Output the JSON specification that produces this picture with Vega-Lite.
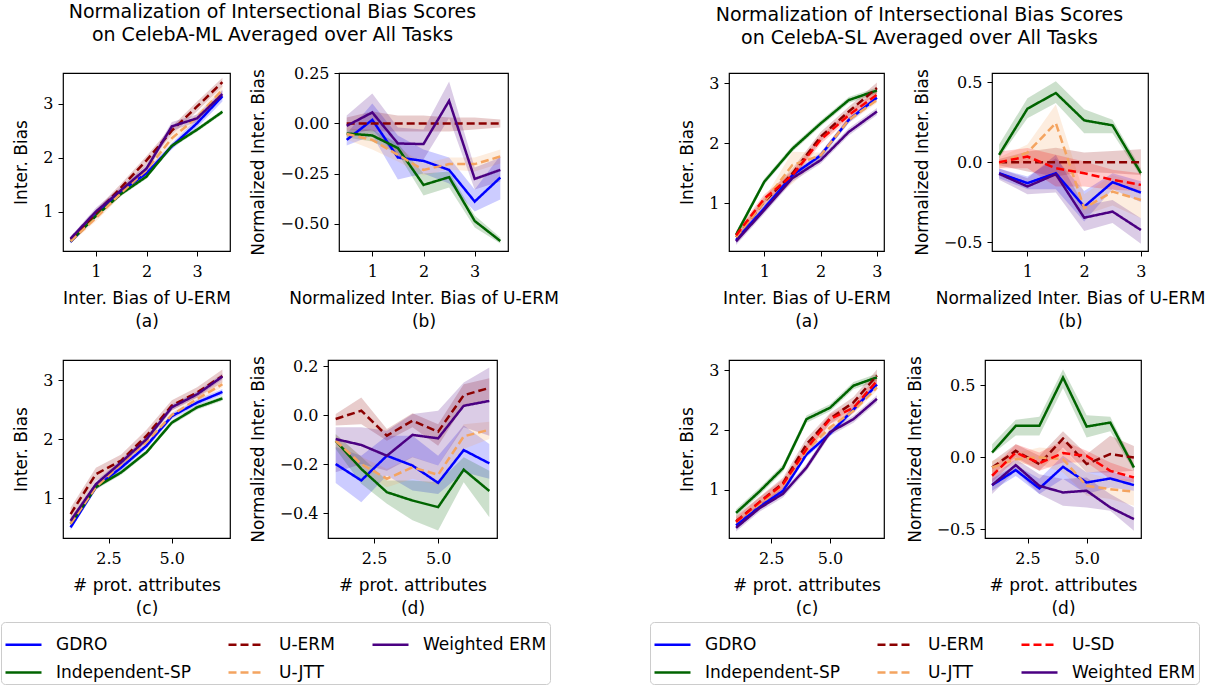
{
"$schema":"https://vega.github.io/schema/vega-lite/v6.json",
"background":"white",
"padding":{"left":0,"top":2,"right":0,"bottom":0},
"config":{
 "view":{"stroke":"black","strokeWidth":1.2},
 "axis":{"grid":false,"domain":false,"tickColor":"black","tickSize":5,"tickWidth":1,"labelFont":"DejaVu Serif","labelFontSize":16,"labelColor":"black","labelPadding":7,"titleFont":"DejaVu Sans","titleFontSize":17,"titleFontWeight":"normal","titleColor":"black","titlePadding":11,"titleLineHeight":23},
 "axisY":{"labelPadding":5,"titlePadding":12,"labelFont":"DejaVu Serif"},
 "legend":{"direction":"horizontal","columns":3,"symbolType":"stroke","symbolSize":1296,"symbolStrokeWidth":2.5,"labelFontSize":17,"labelFont":"DejaVu Sans","labelColor":"black","labelOffset":13,"rowPadding":-5,"columnPadding":32,"padding":3,"strokeColor":"#cccccc","fillColor":"white","cornerRadius":4,"labelLimit":300,"symbolOpacity":1},
 "title":{"font":"DejaVu Sans","fontWeight":"normal","color":"black","lineHeight":23,"anchor":"start","align":"center","frame":"bounds","offset":20,"fontSize":19}
},
"datasets":{
"mla":[
{"m":"GDRO","x":0.5,"y":0.44,"lo":0.41,"hi":0.47},{"m":"GDRO","x":1,"y":0.93,"lo":0.88,"hi":0.98},{"m":"GDRO","x":1.5,"y":1.38,"lo":1.33,"hi":1.43},{"m":"GDRO","x":2,"y":1.71,"lo":1.65,"hi":1.77},{"m":"GDRO","x":2.5,"y":2.21,"lo":2.15,"hi":2.27},{"m":"GDRO","x":3,"y":2.64,"lo":2.56,"hi":2.72},{"m":"GDRO","x":3.5,"y":3.14,"lo":3.04,"hi":3.24},
{"m":"Independent-SP","x":0.5,"y":0.45,"lo":0.42,"hi":0.48},{"m":"Independent-SP","x":1,"y":0.92,"lo":0.88,"hi":0.96},{"m":"Independent-SP","x":1.5,"y":1.33,"lo":1.29,"hi":1.37},{"m":"Independent-SP","x":2,"y":1.65,"lo":1.61,"hi":1.69},{"m":"Independent-SP","x":2.5,"y":2.22,"lo":2.18,"hi":2.26},{"m":"Independent-SP","x":3,"y":2.52,"lo":2.48,"hi":2.56},{"m":"Independent-SP","x":3.5,"y":2.85,"lo":2.81,"hi":2.89},
{"m":"U-ERM","x":0.5,"y":0.48,"lo":0.44,"hi":0.52},{"m":"U-ERM","x":1,"y":0.97,"lo":0.9,"hi":1.04},{"m":"U-ERM","x":1.5,"y":1.45,"lo":1.38,"hi":1.52},{"m":"U-ERM","x":2,"y":1.95,"lo":1.87,"hi":2.03},{"m":"U-ERM","x":2.5,"y":2.5,"lo":2.42,"hi":2.58},{"m":"U-ERM","x":3,"y":2.95,"lo":2.86,"hi":3.04},{"m":"U-ERM","x":3.5,"y":3.4,"lo":3.32,"hi":3.48},
{"m":"U-JTT","x":0.5,"y":0.45,"lo":0.41,"hi":0.49},{"m":"U-JTT","x":1,"y":0.88,"lo":0.82,"hi":0.94},{"m":"U-JTT","x":1.5,"y":1.35,"lo":1.29,"hi":1.41},{"m":"U-JTT","x":2,"y":1.77,"lo":1.71,"hi":1.83},{"m":"U-JTT","x":2.5,"y":2.36,"lo":2.3,"hi":2.42},{"m":"U-JTT","x":3,"y":2.75,"lo":2.68,"hi":2.82},{"m":"U-JTT","x":3.5,"y":3.26,"lo":3.18,"hi":3.34},
{"m":"Weighted ERM","x":0.5,"y":0.5,"lo":0.46,"hi":0.54},{"m":"Weighted ERM","x":1,"y":1.0,"lo":0.93,"hi":1.07},{"m":"Weighted ERM","x":1.5,"y":1.4,"lo":1.34,"hi":1.46},{"m":"Weighted ERM","x":2,"y":1.8,"lo":1.73,"hi":1.87},{"m":"Weighted ERM","x":2.5,"y":2.58,"lo":2.5,"hi":2.66},{"m":"Weighted ERM","x":3,"y":2.73,"lo":2.66,"hi":2.8},{"m":"Weighted ERM","x":3.5,"y":3.18,"lo":3.1,"hi":3.26}
],
"mlb":[
{"m":"GDRO","x":0.5,"y":-0.082,"lo":-0.11,"hi":-0.05},{"m":"GDRO","x":1,"y":0.018,"lo":-0.06,"hi":0.1},{"m":"GDRO","x":1.5,"y":-0.17,"lo":-0.28,"hi":-0.06},{"m":"GDRO","x":2,"y":-0.187,"lo":-0.25,"hi":-0.13},{"m":"GDRO","x":2.5,"y":-0.232,"lo":-0.3,"hi":-0.17},{"m":"GDRO","x":3,"y":-0.39,"lo":-0.44,"hi":-0.33},{"m":"GDRO","x":3.5,"y":-0.27,"lo":-0.38,"hi":-0.16},
{"m":"Independent-SP","x":0.5,"y":-0.05,"lo":-0.07,"hi":-0.03},{"m":"Independent-SP","x":1,"y":-0.06,"lo":-0.09,"hi":-0.03},{"m":"Independent-SP","x":1.5,"y":-0.123,"lo":-0.15,"hi":-0.1},{"m":"Independent-SP","x":2,"y":-0.307,"lo":-0.36,"hi":-0.25},{"m":"Independent-SP","x":2.5,"y":-0.268,"lo":-0.32,"hi":-0.24},{"m":"Independent-SP","x":3,"y":-0.487,"lo":-0.52,"hi":-0.46},{"m":"Independent-SP","x":3.5,"y":-0.587,"lo":-0.6,"hi":-0.57},
{"m":"U-ERM","x":0.5,"y":0,"lo":-0.03,"hi":0.03},{"m":"U-ERM","x":1,"y":0,"lo":-0.04,"hi":0.06},{"m":"U-ERM","x":1.5,"y":0,"lo":-0.04,"hi":0.04},{"m":"U-ERM","x":2,"y":0,"lo":-0.04,"hi":0.04},{"m":"U-ERM","x":2.5,"y":0,"lo":-0.04,"hi":0.03},{"m":"U-ERM","x":3,"y":0,"lo":-0.03,"hi":0.03},{"m":"U-ERM","x":3.5,"y":0,"lo":-0.02,"hi":0.02},
{"m":"U-JTT","x":0.5,"y":-0.053,"lo":-0.08,"hi":-0.02},{"m":"U-JTT","x":1,"y":-0.082,"lo":-0.13,"hi":-0.04},{"m":"U-JTT","x":1.5,"y":-0.157,"lo":-0.19,"hi":-0.12},{"m":"U-JTT","x":2,"y":-0.232,"lo":-0.26,"hi":-0.2},{"m":"U-JTT","x":2.5,"y":-0.203,"lo":-0.23,"hi":-0.17},{"m":"U-JTT","x":3,"y":-0.203,"lo":-0.24,"hi":-0.17},{"m":"U-JTT","x":3.5,"y":-0.165,"lo":-0.2,"hi":-0.13},
{"m":"Weighted ERM","x":0.5,"y":-0.012,"lo":-0.06,"hi":0.04},{"m":"Weighted ERM","x":1,"y":0.055,"lo":-0.03,"hi":0.15},{"m":"Weighted ERM","x":1.5,"y":-0.1,"lo":-0.17,"hi":-0.02},{"m":"Weighted ERM","x":2,"y":-0.103,"lo":-0.18,"hi":-0.03},{"m":"Weighted ERM","x":2.5,"y":0.113,"lo":0.027,"hi":0.21},{"m":"Weighted ERM","x":3,"y":-0.277,"lo":-0.33,"hi":-0.22},{"m":"Weighted ERM","x":3.5,"y":-0.232,"lo":-0.29,"hi":-0.17}
],
"mlc":[
{"m":"GDRO","x":1,"y":0.51,"lo":0.46,"hi":0.56},{"m":"GDRO","x":2,"y":1.19,"lo":1.14,"hi":1.24},{"m":"GDRO","x":3,"y":1.52,"lo":1.47,"hi":1.57},{"m":"GDRO","x":4,"y":1.89,"lo":1.84,"hi":1.94},{"m":"GDRO","x":5,"y":2.39,"lo":2.34,"hi":2.44},{"m":"GDRO","x":6,"y":2.62,"lo":2.57,"hi":2.67},{"m":"GDRO","x":7,"y":2.8,"lo":2.75,"hi":2.85},
{"m":"Independent-SP","x":1,"y":0.57,"lo":0.53,"hi":0.61},{"m":"Independent-SP","x":2,"y":1.19,"lo":1.15,"hi":1.23},{"m":"Independent-SP","x":3,"y":1.44,"lo":1.4,"hi":1.48},{"m":"Independent-SP","x":4,"y":1.78,"lo":1.74,"hi":1.82},{"m":"Independent-SP","x":5,"y":2.28,"lo":2.24,"hi":2.32},{"m":"Independent-SP","x":6,"y":2.54,"lo":2.5,"hi":2.58},{"m":"Independent-SP","x":7,"y":2.69,"lo":2.65,"hi":2.73},
{"m":"U-ERM","x":1,"y":0.735,"lo":0.63,"hi":0.84},{"m":"U-ERM","x":2,"y":1.41,"lo":1.3,"hi":1.52},{"m":"U-ERM","x":3,"y":1.64,"lo":1.54,"hi":1.74},{"m":"U-ERM","x":4,"y":2.06,"lo":1.96,"hi":2.16},{"m":"U-ERM","x":5,"y":2.57,"lo":2.48,"hi":2.66},{"m":"U-ERM","x":6,"y":2.79,"lo":2.7,"hi":2.88},{"m":"U-ERM","x":7,"y":3.07,"lo":2.96,"hi":3.18},
{"m":"U-JTT","x":1,"y":0.57,"lo":0.52,"hi":0.62},{"m":"U-JTT","x":2,"y":1.19,"lo":1.14,"hi":1.24},{"m":"U-JTT","x":3,"y":1.58,"lo":1.53,"hi":1.63},{"m":"U-JTT","x":4,"y":1.95,"lo":1.9,"hi":2.0},{"m":"U-JTT","x":5,"y":2.41,"lo":2.36,"hi":2.46},{"m":"U-JTT","x":6,"y":2.68,"lo":2.63,"hi":2.73},{"m":"U-JTT","x":7,"y":2.93,"lo":2.88,"hi":2.98},
{"m":"Weighted ERM","x":1,"y":0.62,"lo":0.57,"hi":0.67},{"m":"Weighted ERM","x":2,"y":1.24,"lo":1.19,"hi":1.29},{"m":"Weighted ERM","x":3,"y":1.61,"lo":1.56,"hi":1.66},{"m":"Weighted ERM","x":4,"y":2.0,"lo":1.95,"hi":2.05},{"m":"Weighted ERM","x":5,"y":2.54,"lo":2.49,"hi":2.59},{"m":"Weighted ERM","x":6,"y":2.76,"lo":2.71,"hi":2.81},{"m":"Weighted ERM","x":7,"y":3.06,"lo":3.01,"hi":3.11}
],
"mld":[
{"m":"GDRO","x":1,"y":-0.2,"lo":-0.277,"hi":-0.13},{"m":"GDRO","x":2,"y":-0.267,"lo":-0.356,"hi":-0.166},{"m":"GDRO","x":3,"y":-0.166,"lo":-0.247,"hi":-0.084},{"m":"GDRO","x":4,"y":-0.206,"lo":-0.308,"hi":-0.084},{"m":"GDRO","x":5,"y":-0.277,"lo":-0.322,"hi":-0.166},{"m":"GDRO","x":6,"y":-0.143,"lo":-0.233,"hi":-0.043},{"m":"GDRO","x":7,"y":-0.197,"lo":-0.26,"hi":-0.118},
{"m":"Independent-SP","x":1,"y":-0.105,"lo":-0.138,"hi":-0.077},{"m":"Independent-SP","x":2,"y":-0.22,"lo":-0.28,"hi":-0.17},{"m":"Independent-SP","x":3,"y":-0.315,"lo":-0.362,"hi":-0.267},{"m":"Independent-SP","x":4,"y":-0.349,"lo":-0.43,"hi":-0.267},{"m":"Independent-SP","x":5,"y":-0.376,"lo":-0.471,"hi":-0.274},{"m":"Independent-SP","x":6,"y":-0.223,"lo":-0.274,"hi":-0.172},{"m":"Independent-SP","x":7,"y":-0.31,"lo":-0.417,"hi":-0.227},
{"m":"U-ERM","x":1,"y":-0.016,"lo":-0.043,"hi":0.004},{"m":"U-ERM","x":2,"y":0.018,"lo":-0.037,"hi":0.072},{"m":"U-ERM","x":3,"y":-0.084,"lo":-0.105,"hi":-0.057},{"m":"U-ERM","x":4,"y":-0.023,"lo":-0.05,"hi":0.008},{"m":"U-ERM","x":5,"y":-0.068,"lo":-0.125,"hi":-0.037},{"m":"U-ERM","x":6,"y":0.081,"lo":0.038,"hi":0.126},{"m":"U-ERM","x":7,"y":0.111,"lo":0.065,"hi":0.15},
{"m":"U-JTT","x":1,"y":-0.105,"lo":-0.13,"hi":-0.08},{"m":"U-JTT","x":2,"y":-0.2,"lo":-0.23,"hi":-0.17},{"m":"U-JTT","x":3,"y":-0.26,"lo":-0.295,"hi":-0.22},{"m":"U-JTT","x":4,"y":-0.213,"lo":-0.26,"hi":-0.17},{"m":"U-JTT","x":5,"y":-0.244,"lo":-0.288,"hi":-0.206},{"m":"U-JTT","x":6,"y":-0.087,"lo":-0.138,"hi":-0.037},{"m":"U-JTT","x":7,"y":-0.06,"lo":-0.098,"hi":-0.027},
{"m":"Weighted ERM","x":1,"y":-0.098,"lo":-0.233,"hi":-0.05},{"m":"Weighted ERM","x":2,"y":-0.122,"lo":-0.2,"hi":-0.05},{"m":"Weighted ERM","x":3,"y":-0.166,"lo":-0.227,"hi":-0.064},{"m":"Weighted ERM","x":4,"y":-0.081,"lo":-0.172,"hi":0.004},{"m":"Weighted ERM","x":5,"y":-0.095,"lo":-0.206,"hi":0.018},{"m":"Weighted ERM","x":6,"y":0.038,"lo":-0.05,"hi":0.133},{"m":"Weighted ERM","x":7,"y":0.058,"lo":-0.084,"hi":0.194}
],
"sla":[
{"m":"GDRO","x":0.5,"y":0.39,"lo":0.34,"hi":0.44},{"m":"GDRO","x":1,"y":0.92,"lo":0.87,"hi":0.97},{"m":"GDRO","x":1.5,"y":1.47,"lo":1.42,"hi":1.52},{"m":"GDRO","x":2,"y":1.8,"lo":1.75,"hi":1.85},{"m":"GDRO","x":2.5,"y":2.39,"lo":2.34,"hi":2.44},{"m":"GDRO","x":3,"y":2.76,"lo":2.71,"hi":2.81},
{"m":"Independent-SP","x":0.5,"y":0.48,"lo":0.43,"hi":0.53},{"m":"Independent-SP","x":1,"y":1.36,"lo":1.31,"hi":1.41},{"m":"Independent-SP","x":1.5,"y":1.91,"lo":1.86,"hi":1.96},{"m":"Independent-SP","x":2,"y":2.33,"lo":2.28,"hi":2.38},{"m":"Independent-SP","x":2.5,"y":2.72,"lo":2.67,"hi":2.77},{"m":"Independent-SP","x":3,"y":2.88,"lo":2.83,"hi":2.93},
{"m":"U-ERM","x":0.5,"y":0.44,"lo":0.37,"hi":0.51},{"m":"U-ERM","x":1,"y":1.03,"lo":0.95,"hi":1.11},{"m":"U-ERM","x":1.5,"y":1.5,"lo":1.42,"hi":1.58},{"m":"U-ERM","x":2,"y":2.11,"lo":2.03,"hi":2.19},{"m":"U-ERM","x":2.5,"y":2.53,"lo":2.45,"hi":2.61},{"m":"U-ERM","x":3,"y":2.92,"lo":2.83,"hi":3.01},
{"m":"U-JTT","x":0.5,"y":0.44,"lo":0.39,"hi":0.49},{"m":"U-JTT","x":1,"y":1.03,"lo":0.98,"hi":1.08},{"m":"U-JTT","x":1.5,"y":1.64,"lo":1.33,"hi":1.86},{"m":"U-JTT","x":2,"y":1.8,"lo":1.75,"hi":1.85},{"m":"U-JTT","x":2.5,"y":2.39,"lo":2.34,"hi":2.44},{"m":"U-JTT","x":3,"y":2.72,"lo":2.67,"hi":2.77},
{"m":"U-SD","x":0.5,"y":0.47,"lo":0.4,"hi":0.54},{"m":"U-SD","x":1,"y":1.08,"lo":1.01,"hi":1.15},{"m":"U-SD","x":1.5,"y":1.47,"lo":1.4,"hi":1.54},{"m":"U-SD","x":2,"y":2.06,"lo":1.99,"hi":2.13},{"m":"U-SD","x":2.5,"y":2.47,"lo":2.4,"hi":2.54},{"m":"U-SD","x":3,"y":2.81,"lo":2.74,"hi":2.88},
{"m":"Weighted ERM","x":0.5,"y":0.37,"lo":0.31,"hi":0.43},{"m":"Weighted ERM","x":1,"y":0.89,"lo":0.83,"hi":0.95},{"m":"Weighted ERM","x":1.5,"y":1.42,"lo":1.36,"hi":1.48},{"m":"Weighted ERM","x":2,"y":1.72,"lo":1.66,"hi":1.78},{"m":"Weighted ERM","x":2.5,"y":2.19,"lo":2.13,"hi":2.25},{"m":"Weighted ERM","x":3,"y":2.53,"lo":2.47,"hi":2.59}
],
"slb":[
{"m":"GDRO","x":0.5,"y":-0.069,"lo":-0.1,"hi":-0.04},{"m":"GDRO","x":1,"y":-0.131,"lo":-0.17,"hi":-0.09},{"m":"GDRO","x":1.5,"y":-0.069,"lo":-0.17,"hi":0.025},{"m":"GDRO","x":2,"y":-0.278,"lo":-0.37,"hi":-0.18},{"m":"GDRO","x":2.5,"y":-0.125,"lo":-0.17,"hi":-0.07},{"m":"GDRO","x":3,"y":-0.19,"lo":-0.25,"hi":-0.12},
{"m":"Independent-SP","x":0.5,"y":0.046,"lo":0.025,"hi":0.11},{"m":"Independent-SP","x":1,"y":0.334,"lo":0.275,"hi":0.4},{"m":"Independent-SP","x":1.5,"y":0.432,"lo":0.37,"hi":0.505},{"m":"Independent-SP","x":2,"y":0.261,"lo":0.18,"hi":0.33},{"m":"Independent-SP","x":2.5,"y":0.23,"lo":0.18,"hi":0.265},{"m":"Independent-SP","x":3,"y":-0.069,"lo":-0.09,"hi":-0.04},
{"m":"U-ERM","x":0.5,"y":0,"lo":-0.02,"hi":0.02},{"m":"U-ERM","x":1,"y":0,"lo":-0.058,"hi":0.067},{"m":"U-ERM","x":1.5,"y":0,"lo":-0.09,"hi":0.09},{"m":"U-ERM","x":2,"y":0,"lo":-0.06,"hi":0.06},{"m":"U-ERM","x":2.5,"y":0,"lo":-0.07,"hi":0.07},{"m":"U-ERM","x":3,"y":0,"lo":-0.08,"hi":0.08},
{"m":"U-JTT","x":0.5,"y":-0.006,"lo":-0.04,"hi":0.03},{"m":"U-JTT","x":1,"y":0.06,"lo":0.004,"hi":0.11},{"m":"U-JTT","x":1.5,"y":0.244,"lo":-0.017,"hi":0.36},{"m":"U-JTT","x":2,"y":-0.288,"lo":-0.33,"hi":-0.2},{"m":"U-JTT","x":2.5,"y":-0.184,"lo":-0.27,"hi":-0.08},{"m":"U-JTT","x":3,"y":-0.236,"lo":-0.35,"hi":-0.14},
{"m":"U-SD","x":0.5,"y":0,"lo":-0.038,"hi":0.067},{"m":"U-SD","x":1,"y":0.035,"lo":-0.038,"hi":0.088},{"m":"U-SD","x":1.5,"y":-0.038,"lo":-0.152,"hi":0.046},{"m":"U-SD","x":2,"y":-0.069,"lo":-0.152,"hi":0.004},{"m":"U-SD","x":2.5,"y":-0.11,"lo":-0.173,"hi":-0.048},{"m":"U-SD","x":3,"y":-0.142,"lo":-0.18,"hi":-0.07},
{"m":"Weighted ERM","x":0.5,"y":-0.073,"lo":-0.11,"hi":-0.04},{"m":"Weighted ERM","x":1,"y":-0.152,"lo":-0.2,"hi":-0.1},{"m":"Weighted ERM","x":1.5,"y":-0.075,"lo":-0.19,"hi":0.046},{"m":"Weighted ERM","x":2,"y":-0.347,"lo":-0.43,"hi":-0.27},{"m":"Weighted ERM","x":2.5,"y":-0.309,"lo":-0.38,"hi":-0.236},{"m":"Weighted ERM","x":3,"y":-0.424,"lo":-0.51,"hi":-0.35}
],
"slc":[
{"m":"GDRO","x":1,"y":0.4,"lo":0.35,"hi":0.45},{"m":"GDRO","x":2,"y":0.71,"lo":0.66,"hi":0.76},{"m":"GDRO","x":3,"y":0.98,"lo":0.93,"hi":1.03},{"m":"GDRO","x":4,"y":1.59,"lo":1.54,"hi":1.64},{"m":"GDRO","x":5,"y":1.94,"lo":1.89,"hi":1.99},{"m":"GDRO","x":6,"y":2.34,"lo":2.29,"hi":2.39},{"m":"GDRO","x":7,"y":2.76,"lo":2.71,"hi":2.81},
{"m":"Independent-SP","x":1,"y":0.61,"lo":0.55,"hi":0.67},{"m":"Independent-SP","x":2,"y":0.97,"lo":0.91,"hi":1.03},{"m":"Independent-SP","x":3,"y":1.36,"lo":1.3,"hi":1.42},{"m":"Independent-SP","x":4,"y":2.18,"lo":2.12,"hi":2.24},{"m":"Independent-SP","x":5,"y":2.37,"lo":2.31,"hi":2.43},{"m":"Independent-SP","x":6,"y":2.74,"lo":2.68,"hi":2.8},{"m":"Independent-SP","x":7,"y":2.88,"lo":2.82,"hi":2.94},
{"m":"U-ERM","x":1,"y":0.47,"lo":0.38,"hi":0.56},{"m":"U-ERM","x":2,"y":0.79,"lo":0.7,"hi":0.88},{"m":"U-ERM","x":3,"y":1.11,"lo":1.02,"hi":1.2},{"m":"U-ERM","x":4,"y":1.76,"lo":1.66,"hi":1.86},{"m":"U-ERM","x":5,"y":2.19,"lo":2.1,"hi":2.28},{"m":"U-ERM","x":6,"y":2.46,"lo":2.37,"hi":2.55},{"m":"U-ERM","x":7,"y":2.91,"lo":2.81,"hi":3.01},
{"m":"U-JTT","x":1,"y":0.46,"lo":0.41,"hi":0.51},{"m":"U-JTT","x":2,"y":0.76,"lo":0.71,"hi":0.81},{"m":"U-JTT","x":3,"y":1.07,"lo":1.02,"hi":1.12},{"m":"U-JTT","x":4,"y":1.65,"lo":1.6,"hi":1.7},{"m":"U-JTT","x":5,"y":2.04,"lo":1.99,"hi":2.09},{"m":"U-JTT","x":6,"y":2.32,"lo":2.27,"hi":2.37},{"m":"U-JTT","x":7,"y":2.71,"lo":2.66,"hi":2.76},
{"m":"U-SD","x":1,"y":0.46,"lo":0.38,"hi":0.54},{"m":"U-SD","x":2,"y":0.79,"lo":0.71,"hi":0.87},{"m":"U-SD","x":3,"y":1.09,"lo":1.01,"hi":1.17},{"m":"U-SD","x":4,"y":1.68,"lo":1.6,"hi":1.76},{"m":"U-SD","x":5,"y":2.18,"lo":2.1,"hi":2.26},{"m":"U-SD","x":6,"y":2.37,"lo":2.29,"hi":2.45},{"m":"U-SD","x":7,"y":2.82,"lo":2.74,"hi":2.9},
{"m":"Weighted ERM","x":1,"y":0.36,"lo":0.3,"hi":0.42},{"m":"Weighted ERM","x":2,"y":0.69,"lo":0.63,"hi":0.75},{"m":"Weighted ERM","x":3,"y":0.93,"lo":0.87,"hi":0.99},{"m":"Weighted ERM","x":4,"y":1.37,"lo":1.31,"hi":1.43},{"m":"Weighted ERM","x":5,"y":1.96,"lo":1.9,"hi":2.02},{"m":"Weighted ERM","x":6,"y":2.18,"lo":2.12,"hi":2.24},{"m":"Weighted ERM","x":7,"y":2.52,"lo":2.46,"hi":2.58}
],
"sld":[
{"m":"GDRO","x":1,"y":-0.194,"lo":-0.233,"hi":-0.15},{"m":"GDRO","x":2,"y":-0.09,"lo":-0.13,"hi":-0.055},{"m":"GDRO","x":3,"y":-0.217,"lo":-0.256,"hi":-0.15},{"m":"GDRO","x":4,"y":-0.067,"lo":-0.15,"hi":0.01},{"m":"GDRO","x":5,"y":-0.176,"lo":-0.256,"hi":-0.106},{"m":"GDRO","x":6,"y":-0.148,"lo":-0.21,"hi":-0.095},{"m":"GDRO","x":7,"y":-0.194,"lo":-0.233,"hi":-0.152},
{"m":"Independent-SP","x":1,"y":0.032,"lo":0.02,"hi":0.09},{"m":"Independent-SP","x":2,"y":0.217,"lo":0.15,"hi":0.26},{"m":"Independent-SP","x":3,"y":0.217,"lo":0.15,"hi":0.28},{"m":"Independent-SP","x":4,"y":0.552,"lo":0.48,"hi":0.61},{"m":"Independent-SP","x":5,"y":0.212,"lo":0.136,"hi":0.29},{"m":"Independent-SP","x":6,"y":0.24,"lo":0.18,"hi":0.28},{"m":"Independent-SP","x":7,"y":-0.072,"lo":-0.095,"hi":-0.05},
{"m":"U-ERM","x":1,"y":-0.072,"lo":-0.12,"hi":-0.03},{"m":"U-ERM","x":2,"y":0.044,"lo":0,"hi":0.09},{"m":"U-ERM","x":3,"y":-0.048,"lo":-0.095,"hi":0.01},{"m":"U-ERM","x":4,"y":0.129,"lo":0.067,"hi":0.18},{"m":"U-ERM","x":5,"y":-0.048,"lo":-0.106,"hi":0.02},{"m":"U-ERM","x":6,"y":0.021,"lo":-0.106,"hi":0.148},{"m":"U-ERM","x":7,"y":-0.002,"lo":-0.095,"hi":0.078},
{"m":"U-JTT","x":1,"y":-0.072,"lo":-0.106,"hi":-0.025},{"m":"U-JTT","x":2,"y":-0.014,"lo":-0.05,"hi":0.03},{"m":"U-JTT","x":3,"y":-0.002,"lo":-0.05,"hi":0.067},{"m":"U-JTT","x":4,"y":-0.014,"lo":-0.106,"hi":0.055},{"m":"U-JTT","x":5,"y":-0.199,"lo":-0.268,"hi":-0.106},{"m":"U-JTT","x":6,"y":-0.222,"lo":-0.29,"hi":-0.152},{"m":"U-JTT","x":7,"y":-0.24,"lo":-0.337,"hi":-0.152},
{"m":"U-SD","x":1,"y":-0.129,"lo":-0.175,"hi":-0.083},{"m":"U-SD","x":2,"y":0.032,"lo":-0.014,"hi":0.09},{"m":"U-SD","x":3,"y":-0.042,"lo":-0.095,"hi":0.032},{"m":"U-SD","x":4,"y":0.028,"lo":-0.037,"hi":0.113},{"m":"U-SD","x":5,"y":0.009,"lo":-0.037,"hi":0.044},{"m":"U-SD","x":6,"y":-0.095,"lo":-0.152,"hi":-0.037},{"m":"U-SD","x":7,"y":-0.141,"lo":-0.175,"hi":-0.095},
{"m":"Weighted ERM","x":1,"y":-0.194,"lo":-0.256,"hi":-0.13},{"m":"Weighted ERM","x":2,"y":-0.055,"lo":-0.095,"hi":-0.014},{"m":"Weighted ERM","x":3,"y":-0.199,"lo":-0.256,"hi":-0.118},{"m":"Weighted ERM","x":4,"y":-0.245,"lo":-0.337,"hi":-0.152},{"m":"Weighted ERM","x":5,"y":-0.233,"lo":-0.349,"hi":-0.141},{"m":"Weighted ERM","x":6,"y":-0.349,"lo":-0.372,"hi":-0.256},{"m":"Weighted ERM","x":7,"y":-0.43,"lo":-0.51,"hi":-0.349}
]
},
"hconcat":[
{
 "title":{"text":["Normalization of Intersectional Bias Scores","on CelebA-ML Averaged over All Tasks"],"anchor":"start","align":"center","frame":"bounds","dx":272},
 "spacing":25,
 "vconcat":[
  {"spacing":17,"hconcat":[
   {"width":167,"height":178,"data":{"name":"mla"},"layer":[
    {"mark":{"type":"area","opacity":0.2},"encoding":{
     "x":{"field":"x","type":"quantitative","scale":{"domain":[0.35,3.65],"nice":false,"zero":false},"axis":{"values":[1,2,3],"format":"d","title":["Inter. Bias of U-ERM","(a)"]}},
     "y":{"field":"lo","type":"quantitative","stack":null,"scale":{"domain":[0.27,3.57],"nice":false,"zero":false},"axis":{"values":[1,2,3],"format":"d","title":"Inter. Bias"}},
     "y2":{"field":"hi"},
     "fill":{"field":"m","type":"nominal","scale":{"domain":["Weighted ERM","U-JTT","U-ERM","Independent-SP","GDRO"],"range":["#4b0082","#f4a460","#8b0000","#006400","#0000ff"]},"legend":null}}},
    {"mark":{"type":"line","strokeWidth":2.5},"encoding":{
     "x":{"field":"x","type":"quantitative"},
     "y":{"field":"y","type":"quantitative"},
     "color":{"field":"m","type":"nominal","scale":{"domain":["GDRO","U-ERM","Weighted ERM","Independent-SP","U-JTT"],"range":["#0000ff","#8b0000","#4b0082","#006400","#f4a460"]},"legend":{"title":null,"orient":"none","legendX":-62,"legendY":549}},
     "strokeDash":{"field":"m","type":"nominal","scale":{"domain":["GDRO","U-ERM","Weighted ERM","Independent-SP","U-JTT"],"range":[[1,0],[8,4],[1,0],[1,0],[8,4]]},"legend":{"title":null,"orient":"none","legendX":-62,"legendY":549}}}}
   ]},
   {"width":169,"height":178,"data":{"name":"mlb"},"layer":[
    {"mark":{"type":"area","opacity":0.2},"encoding":{
     "x":{"field":"x","type":"quantitative","scale":{"domain":[0.35,3.65],"nice":false,"zero":false},"axis":{"values":[1,2,3],"format":"d","title":["Normalized Inter. Bias of U-ERM","(b)"]}},
     "y":{"field":"lo","type":"quantitative","stack":null,"scale":{"domain":[-0.637,0.252],"nice":false,"zero":false},"axis":{"values":[-0.5,-0.25,0,0.25],"format":".2f","title":"Normalized Inter. Bias"}},
     "y2":{"field":"hi"},
     "fill":{"field":"m","type":"nominal","scale":{"domain":["Weighted ERM","U-JTT","U-ERM","Independent-SP","GDRO"],"range":["#4b0082","#f4a460","#8b0000","#006400","#0000ff"]},"legend":null}}},
    {"mark":{"type":"line","strokeWidth":2.5},"encoding":{
     "x":{"field":"x","type":"quantitative"},
     "y":{"field":"y","type":"quantitative"},
     "color":{"field":"m","type":"nominal","scale":{"domain":["GDRO","U-ERM","Weighted ERM","Independent-SP","U-JTT"],"range":["#0000ff","#8b0000","#4b0082","#006400","#f4a460"]},"legend":{"title":null,"orient":"none","legendX":-62,"legendY":549}},
     "strokeDash":{"field":"m","type":"nominal","scale":{"domain":["GDRO","U-ERM","Weighted ERM","Independent-SP","U-JTT"],"range":[[1,0],[8,4],[1,0],[1,0],[8,4]]},"legend":{"title":null,"orient":"none","legendX":-62,"legendY":549}}}}
   ]}
  ]},
  {"spacing":17,"hconcat":[
   {"width":167,"height":178,"data":{"name":"mlc"},"layer":[
    {"mark":{"type":"area","opacity":0.2},"encoding":{
     "x":{"field":"x","type":"quantitative","scale":{"domain":[0.7,7.3],"nice":false,"zero":false},"axis":{"values":[2.5,5],"format":".1f","title":["# prot. attributes","(c)"]}},
     "y":{"field":"lo","type":"quantitative","stack":null,"scale":{"domain":[0.33,3.34],"nice":false,"zero":false},"axis":{"values":[1,2,3],"format":"d","title":"Inter. Bias"}},
     "y2":{"field":"hi"},
     "fill":{"field":"m","type":"nominal","scale":{"domain":["Weighted ERM","U-JTT","U-ERM","Independent-SP","GDRO"],"range":["#4b0082","#f4a460","#8b0000","#006400","#0000ff"]},"legend":null}}},
    {"mark":{"type":"line","strokeWidth":2.5},"encoding":{
     "x":{"field":"x","type":"quantitative"},
     "y":{"field":"y","type":"quantitative"},
     "color":{"field":"m","type":"nominal","scale":{"domain":["GDRO","U-ERM","Weighted ERM","Independent-SP","U-JTT"],"range":["#0000ff","#8b0000","#4b0082","#006400","#f4a460"]},"legend":{"title":null,"orient":"none","legendX":-62,"legendY":549}},
     "strokeDash":{"field":"m","type":"nominal","scale":{"domain":["GDRO","U-ERM","Weighted ERM","Independent-SP","U-JTT"],"range":[[1,0],[8,4],[1,0],[1,0],[8,4]]},"legend":{"title":null,"orient":"none","legendX":-62,"legendY":549}}}}
   ]},
   {"width":169,"height":178,"data":{"name":"mld"},"layer":[
    {"mark":{"type":"area","opacity":0.2},"encoding":{
     "x":{"field":"x","type":"quantitative","scale":{"domain":[0.7,7.3],"nice":false,"zero":false},"axis":{"values":[2.5,5],"format":".1f","title":["# prot. attributes","(d)"]}},
     "y":{"field":"lo","type":"quantitative","stack":null,"scale":{"domain":[-0.502,0.225],"nice":false,"zero":false},"axis":{"values":[-0.4,-0.2,0,0.2],"format":".1f","title":"Normalized Inter. Bias"}},
     "y2":{"field":"hi"},
     "fill":{"field":"m","type":"nominal","scale":{"domain":["Weighted ERM","U-JTT","U-ERM","Independent-SP","GDRO"],"range":["#4b0082","#f4a460","#8b0000","#006400","#0000ff"]},"legend":null}}},
    {"mark":{"type":"line","strokeWidth":2.5},"encoding":{
     "x":{"field":"x","type":"quantitative"},
     "y":{"field":"y","type":"quantitative"},
     "color":{"field":"m","type":"nominal","scale":{"domain":["GDRO","U-ERM","Weighted ERM","Independent-SP","U-JTT"],"range":["#0000ff","#8b0000","#4b0082","#006400","#f4a460"]},"legend":{"title":null,"orient":"none","legendX":-62,"legendY":549}},
     "strokeDash":{"field":"m","type":"nominal","scale":{"domain":["GDRO","U-ERM","Weighted ERM","Independent-SP","U-JTT"],"range":[[1,0],[8,4],[1,0],[1,0],[8,4]]},"legend":{"title":null,"orient":"none","legendX":-62,"legendY":549}}}}
   ]}
  ]}
 ]
},
{
 "title":{"text":["Normalization of Intersectional Bias Scores","on CelebA-SL Averaged over All Tasks"],"anchor":"start","align":"center","frame":"bounds","dx":270},
 "spacing":25,
 "vconcat":[
  {"spacing":20,"hconcat":[
   {"width":155,"height":178,"data":{"name":"sla"},"layer":[
    {"mark":{"type":"area","opacity":0.2},"encoding":{
     "x":{"field":"x","type":"quantitative","scale":{"domain":[0.375,3.125],"nice":false,"zero":false},"axis":{"values":[1,2,3],"format":"d","title":["Inter. Bias of U-ERM","(a)"]}},
     "y":{"field":"lo","type":"quantitative","stack":null,"scale":{"domain":[0.21,3.17],"nice":false,"zero":false},"axis":{"values":[1,2,3],"format":"d","title":"Inter. Bias"}},
     "y2":{"field":"hi"},
     "fill":{"field":"m","type":"nominal","scale":{"domain":["Weighted ERM","U-SD","U-JTT","U-ERM","Independent-SP","GDRO"],"range":["#4b0082","#ff0000","#f4a460","#8b0000","#006400","#0000ff"]},"legend":null}}},
    {"mark":{"type":"line","strokeWidth":2.5},"encoding":{
     "x":{"field":"x","type":"quantitative"},
     "y":{"field":"y","type":"quantitative"},
     "color":{"field":"m","type":"nominal","scale":{"domain":["GDRO","U-ERM","U-SD","Independent-SP","U-JTT","Weighted ERM"],"range":["#0000ff","#8b0000","#ff0000","#006400","#f4a460","#4b0082"]},"legend":{"title":null,"orient":"none","legendX":-79,"legendY":549}},
     "strokeDash":{"field":"m","type":"nominal","scale":{"domain":["GDRO","U-ERM","U-SD","Independent-SP","U-JTT","Weighted ERM"],"range":[[1,0],[8,4],[8,4],[1,0],[8,4],[1,0]]},"legend":{"title":null,"orient":"none","legendX":-79,"legendY":549}}}}
   ]},
   {"width":156,"height":178,"data":{"name":"slb"},"layer":[
    {"mark":{"type":"area","opacity":0.2},"encoding":{
     "x":{"field":"x","type":"quantitative","scale":{"domain":[0.375,3.125],"nice":false,"zero":false},"axis":{"values":[1,2,3],"format":"d","title":["Normalized Inter. Bias of U-ERM","(b)"]}},
     "y":{"field":"lo","type":"quantitative","stack":null,"scale":{"domain":[-0.555,0.557],"nice":false,"zero":false},"axis":{"values":[-0.5,0,0.5],"format":".1f","title":"Normalized Inter. Bias"}},
     "y2":{"field":"hi"},
     "fill":{"field":"m","type":"nominal","scale":{"domain":["Weighted ERM","U-SD","U-JTT","U-ERM","Independent-SP","GDRO"],"range":["#4b0082","#ff0000","#f4a460","#8b0000","#006400","#0000ff"]},"legend":null}}},
    {"mark":{"type":"line","strokeWidth":2.5},"encoding":{
     "x":{"field":"x","type":"quantitative"},
     "y":{"field":"y","type":"quantitative"},
     "color":{"field":"m","type":"nominal","scale":{"domain":["GDRO","U-ERM","U-SD","Independent-SP","U-JTT","Weighted ERM"],"range":["#0000ff","#8b0000","#ff0000","#006400","#f4a460","#4b0082"]},"legend":{"title":null,"orient":"none","legendX":-79,"legendY":549}},
     "strokeDash":{"field":"m","type":"nominal","scale":{"domain":["GDRO","U-ERM","U-SD","Independent-SP","U-JTT","Weighted ERM"],"range":[[1,0],[8,4],[8,4],[1,0],[8,4],[1,0]]},"legend":{"title":null,"orient":"none","legendX":-79,"legendY":549}}}}
   ]}
  ]},
  {"spacing":20,"hconcat":[
   {"width":155,"height":178,"data":{"name":"slc"},"layer":[
    {"mark":{"type":"area","opacity":0.2},"encoding":{
     "x":{"field":"x","type":"quantitative","scale":{"domain":[0.7,7.3],"nice":false,"zero":false},"axis":{"values":[2.5,5],"format":".1f","title":["# prot. attributes","(c)"]}},
     "y":{"field":"lo","type":"quantitative","stack":null,"scale":{"domain":[0.19,3.17],"nice":false,"zero":false},"axis":{"values":[1,2,3],"format":"d","title":"Inter. Bias"}},
     "y2":{"field":"hi"},
     "fill":{"field":"m","type":"nominal","scale":{"domain":["Weighted ERM","U-SD","U-JTT","U-ERM","Independent-SP","GDRO"],"range":["#4b0082","#ff0000","#f4a460","#8b0000","#006400","#0000ff"]},"legend":null}}},
    {"mark":{"type":"line","strokeWidth":2.5},"encoding":{
     "x":{"field":"x","type":"quantitative"},
     "y":{"field":"y","type":"quantitative"},
     "color":{"field":"m","type":"nominal","scale":{"domain":["GDRO","U-ERM","U-SD","Independent-SP","U-JTT","Weighted ERM"],"range":["#0000ff","#8b0000","#ff0000","#006400","#f4a460","#4b0082"]},"legend":{"title":null,"orient":"none","legendX":-79,"legendY":549}},
     "strokeDash":{"field":"m","type":"nominal","scale":{"domain":["GDRO","U-ERM","U-SD","Independent-SP","U-JTT","Weighted ERM"],"range":[[1,0],[8,4],[8,4],[1,0],[8,4],[1,0]]},"legend":{"title":null,"orient":"none","legendX":-79,"legendY":549}}}}
   ]},
   {"width":156,"height":178,"data":{"name":"sld"},"layer":[
    {"mark":{"type":"area","opacity":0.2},"encoding":{
     "x":{"field":"x","type":"quantitative","scale":{"domain":[0.7,7.3],"nice":false,"zero":false},"axis":{"values":[2.5,5],"format":".1f","title":["# prot. attributes","(d)"]}},
     "y":{"field":"lo","type":"quantitative","stack":null,"scale":{"domain":[-0.561,0.674],"nice":false,"zero":false},"axis":{"values":[-0.5,0,0.5],"format":".1f","title":"Normalized Inter. Bias"}},
     "y2":{"field":"hi"},
     "fill":{"field":"m","type":"nominal","scale":{"domain":["Weighted ERM","U-SD","U-JTT","U-ERM","Independent-SP","GDRO"],"range":["#4b0082","#ff0000","#f4a460","#8b0000","#006400","#0000ff"]},"legend":null}}},
    {"mark":{"type":"line","strokeWidth":2.5},"encoding":{
     "x":{"field":"x","type":"quantitative"},
     "y":{"field":"y","type":"quantitative"},
     "color":{"field":"m","type":"nominal","scale":{"domain":["GDRO","U-ERM","U-SD","Independent-SP","U-JTT","Weighted ERM"],"range":["#0000ff","#8b0000","#ff0000","#006400","#f4a460","#4b0082"]},"legend":{"title":null,"orient":"none","legendX":-79,"legendY":549}},
     "strokeDash":{"field":"m","type":"nominal","scale":{"domain":["GDRO","U-ERM","U-SD","Independent-SP","U-JTT","Weighted ERM"],"range":[[1,0],[8,4],[8,4],[1,0],[8,4],[1,0]]},"legend":{"title":null,"orient":"none","legendX":-79,"legendY":549}}}}
   ]}
  ]}
 ]
}
],
"spacing":90,
"resolve":{"scale":{"color":"independent","strokeDash":"independent","fill":"independent"},"legend":{"color":"independent","strokeDash":"independent"}}
}
